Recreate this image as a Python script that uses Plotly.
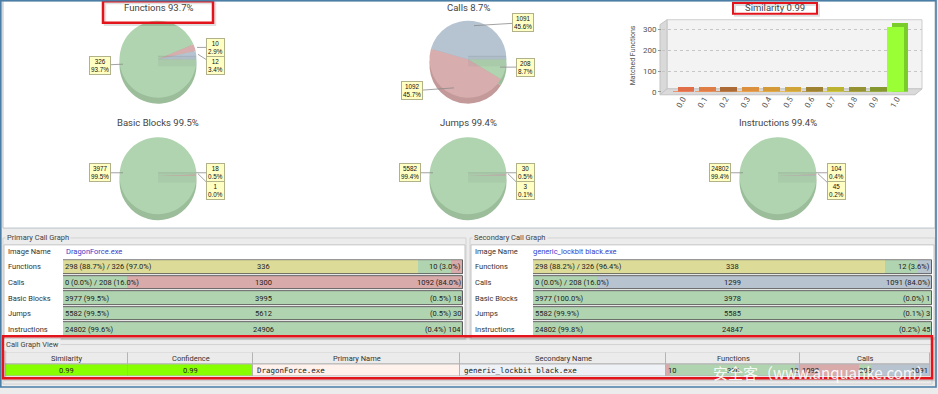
import plotly.graph_objects as go

W, H = 938, 394


def px(x):
    return x / W


def py(y):
    return 1 - y / H


# ---------------- data ----------------
pie_titles = ["Functions 93.7%", "Calls 8.7%", "Basic Blocks 99.5%", "Jumps 99.4%", "Instructions 99.4%"]
pie_matched = [326, 208, 3977, 5582, 24802]
pie_primary_only = [10, 1092, 18, 30, 104]
pie_secondary_only = [12, 1091, 1, 3, 45]

sim_title = "Similarity 0.99"
sim_bins = ["0.0", "0.1", "0.2", "0.3", "0.4", "0.5", "0.6", "0.7", "0.8", "0.9", "1.0"]
sim_counts = [1, 1, 2, 1, 1, 1, 1, 1, 1, 2, 314]
sim_ytitle = "Matched Functions"
sim_ticks = [0, 100, 200, 300]

row_names = ["Functions", "Calls", "Basic Blocks", "Jumps", "Instructions"]
primary_name = "DragonForce.exe"
primary_identical = [298, 0, None, None, None]
primary_matched = [326, 208, 3977, 5582, 24802]
primary_total = [336, 1300, 3995, 5612, 24906]
secondary_name = "generic_lockbit black.exe"
secondary_identical = [298, 0, None, None, None]
secondary_matched = [326, 208, 3977, 5582, 24802]
secondary_total = [338, 1299, 3978, 5585, 24847]

table_headers = ["Similarity", "Confidence", "Primary Name", "Secondary Name", "Functions", "Calls"]
table_similarity = "0.99"
table_confidence = "0.99"
table_functions = [10, 326, 12]      # primary only, matched, secondary only
table_calls = [1092, 208, 1091]
watermark = "安全客（www.anquanke.com）"

# ---------------- style / layout constants ----------------
FONT = "Roboto"
pie_centers = [(158, 60), (468, 60), (158, 178), (468, 178), (778, 178)]
title_pos = [(158, 8), (468, 8), (158, 124), (468, 124), (778, 124)]
PIE_R = 39
PIE_DEPTH = 6
face_colors = ["#b0d4af", "#d7adad", "#b6c4d2"]
side_colors = ["#9bbd9a", "#c39999", "#a1afbe"]
# (box dx, box dy, leader end dx, leader end dy) relative to pie centre, per slice [matched, primary, secondary]
label_pos = [
    [(-58, 6, -35, 5), (57, -12, 39, -12), (57, 6, 40, -5)],
    [(57, 8, 32, 8), (-56, 32, -14, 29), (55, -37, 6, -34)],
    [(-58, -3, -35, -3), (57, -3, 38, -3), (57, 15, 40, -2)],
    [(-58, -3, -35, -3), (57, -3, 38, -3), (57, 15, 40, -2)],
    [(-58, -3, -35, -3), (58, -3, 38, -3), (58, 15, 40, -2)],
]
YELLOW, GREEN, RED, BLUE = "#dcdc98", "#b0d4b0", "#d8aaaa", "#b7c3cf"
sim_colors = ["#f47c52", "#f38b4e", "#c47a3e", "#f2a046", "#eaa93e", "#e5b53e",
              "#b3933a", "#d3c936", "#a9a53a", "#97ab37", "#9bff35"]
sim_back = ["#e06e48", "#de7e46", "#ac6a36", "#dc903e", "#d49a38", "#d0a438",
            "#9e8232", "#bcb430", "#949232", "#84982f", "#7acc2a"]
table_col_widths = [123, 125, 207, 206, 134, 130]
table_cell_fill = ["#88ff00", "#88ff00", "#fff1ec", "#eef2f7", "rgba(0,0,0,0)", "rgba(0,0,0,0)"]

fig = go.Figure()


def shape_rect(x0, y0, x1, y1, fill=None, line=None, lw=1, layer="below"):
    fig.add_shape(type="rect", xref="paper", yref="paper",
                  x0=px(x0), x1=px(x1), y0=py(y0), y1=py(y1),
                  fillcolor=fill or "rgba(0,0,0,0)",
                  line=dict(color=line or "rgba(0,0,0,0)", width=lw if line else 0),
                  layer=layer)


def shape_line(x0, y0, x1, y1, color, lw=1, layer="below"):
    fig.add_shape(type="line", xref="paper", yref="paper",
                  x0=px(x0), x1=px(x1), y0=py(y0), y1=py(y1),
                  line=dict(color=color, width=lw), layer=layer)


def shape_poly(pts, fill, line=None, layer="below"):
    path = "M " + " L ".join(f"{px(a):.5f},{py(b):.5f}" for a, b in pts) + " Z"
    fig.add_shape(type="path", xref="paper", yref="paper", path=path, fillcolor=fill,
                  line=dict(color=line or "rgba(0,0,0,0)", width=1 if line else 0), layer=layer)


def text(x, y, s, size=7.5, color="#333", family=FONT, xanchor="left", **kw):
    fig.add_annotation(x=px(x), y=py(y), xref="paper", yref="paper", text=s, showarrow=False,
                       xanchor=xanchor, yanchor="middle",
                       font=dict(size=size, color=color, family=family), **kw)


# ---------------- background panels ----------------
shape_rect(3, 1, 935, 231, fill="white", line="#b9c3ca")
shape_rect(3, 241, 466, 344, line="#d2d2d2")
shape_rect(4, 248, 465, 343, fill="white", line="#c4c4c4")
shape_rect(470, 241, 935, 344, line="#d2d2d2")
shape_rect(471, 248, 934, 343, fill="white", line="#c4c4c4")
shape_rect(3, 349, 932, 389, line="#d2d2d2")

# similarity chart 3D box
shape_rect(667, 20, 922, 90, fill="#f3f3f3", line="#cdcdcd")
shape_poly([(660, 96), (660, 25), (667, 20), (667, 90)], "#d9d9d9", "#c4c4c4")
shape_poly([(660, 96), (667, 90), (922, 90), (915, 96)], "#dadada", "#c4c4c4")

# ---------------- pies ----------------
for i in range(5):
    cx, cy = pie_centers[i]
    vals = [pie_matched[i], pie_primary_only[i], pie_secondary_only[i]]
    for dy, cols in ((PIE_DEPTH, side_colors), (0, face_colors)):
        fig.add_trace(go.Pie(
            values=vals, sort=False, direction="clockwise", rotation=90,
            marker=dict(colors=cols, line=dict(width=0)),
            textinfo="none", hoverinfo="skip", showlegend=False,
            domain=dict(x=[px(cx - PIE_R), px(cx + PIE_R)],
                        y=[py(cy + dy + PIE_R), py(cy + dy - PIE_R)])))
    # 3D inner edge artefact
    shape_rect(cx, cy - 3, cx + PIE_R - 1, cy + 7, fill="rgba(130,145,140,0.13)", layer="above")
    shape_line(cx, cy - 3, cx + PIE_R - 1, cy - 3, "rgba(110,120,120,0.3)", 0.7, layer="above")
    tot = sum(vals)
    for k in range(3):
        dx, dyy, ex, ey = label_pos[i][k]
        shape_line(cx + dx, cy + dyy, cx + ex, cy + ey, "#8a8a8a", 0.8, layer="above")
        fig.add_annotation(x=px(cx + dx), y=py(cy + dyy), xref="paper", yref="paper",
                           xanchor="center", yanchor="middle",
                           text=f"{vals[k]}<br>{vals[k] / tot * 100:.1f}%", showarrow=False,
                           font=dict(size=6.3, family="Liberation Sans", color="#111"),
                           bgcolor="#ffffc4", bordercolor="#b2b28a", borderwidth=1, borderpad=1)
    tx, ty = title_pos[i]
    text(tx, ty, pie_titles[i], size=9.5, color="#444", xanchor="center")

# ---------------- similarity histogram ----------------
Y_TOP, Y_BOT = 20, 93
Y_MAX = 348
DEPTH_PX = 4.5
dz = DEPTH_PX * Y_MAX / (Y_BOT - Y_TOP)
fig.add_trace(go.Bar(x=sim_bins, y=[v + dz for v in sim_counts], width=0.78, offset=-0.24,
                     marker=dict(color=sim_back, line=dict(width=0)),
                     xaxis="x", yaxis="y", hoverinfo="skip", showlegend=False))
fig.add_trace(go.Bar(x=sim_bins, y=sim_counts, width=0.78, offset=-0.45,
                     marker=dict(color=sim_colors, line=dict(width=0)),
                     xaxis="x", yaxis="y", hoverinfo="skip", showlegend=False))
text(775, 8, sim_title, size=9.5, color="#444", xanchor="center")
fig.add_annotation(x=px(633), y=py(56), xref="paper", yref="paper", text=sim_ytitle,
                   showarrow=False, textangle=-90, xanchor="center", yanchor="middle",
                   font=dict(size=7, color="#555", family=FONT))


# ---------------- call graph panels ----------------
def add_panel(xa, ya, identical, matched, total, other_color):
    ident = [v if v is not None else 0 for v in identical]
    common = dict(y=row_names, orientation="h", width=0.88, xaxis=xa, yaxis=ya,
                  hoverinfo="skip", showlegend=False)
    fig.add_trace(go.Bar(x=[a / t for a, t in zip(ident, total)], base=[0] * 5,
                         marker=dict(color=YELLOW, line=dict(width=0)), **common))
    fig.add_trace(go.Bar(x=[(m - a) / t for a, m, t in zip(ident, matched, total)],
                         base=[a / t for a, t in zip(ident, total)],
                         marker=dict(color=GREEN, line=dict(width=0)), **common))
    fig.add_trace(go.Bar(x=[(t - m) / t for m, t in zip(matched, total)],
                         base=[m / t for m, t in zip(matched, total)],
                         marker=dict(color=other_color, line=dict(width=0)), **common))
    fig.add_trace(go.Bar(x=[1] * 5, base=[0] * 5,
                         marker=dict(color="rgba(0,0,0,0)", line=dict(color="#5e5e5e", width=1)),
                         **common))
    for r, name in enumerate(row_names):
        m, t = matched[r], total[r]
        u = t - m
        if identical[r] is not None:
            a = identical[r]
            left = f"{a} ({a / t * 100:.1f}%) / {m} ({m / t * 100:.1f}%)"
            right = f"{u} ({u / t * 100:.1f}%)"
        else:
            left = f"{m} ({m / t * 100:.1f}%)"
            right = f"({u / t * 100:.1f}%) {u}"
        for xv, s, anc in ((0, left, "left"), (0.5, str(t), "center"), (1, right, "right")):
            fig.add_annotation(x=xv, y=name, xref=xa, yref=ya, text=s, showarrow=False,
                               xanchor=anc, yanchor="middle",
                               font=dict(size=7.5, color="#222", family=FONT))


add_panel("x2", "y2", primary_identical, primary_matched, primary_total, RED)
add_panel("x3", "y3", secondary_identical, secondary_matched, secondary_total, BLUE)

for lx, name, title in ((5, primary_name, "Primary Call Graph"), (472, secondary_name, "Secondary Call Graph")):
    text(lx, 241, title, size=7.5, color="#444", bgcolor="#ececec")
    text(lx + 1, 255, "Image Name", size=7.5, color="#333")
    text(lx + 59, 255, name, size=7.5, color="#3a3ac8")
    for name_r in row_names:
        fig.add_annotation(x=px(lx + 1), y=name_r, xref="paper", yref="y2", text=name_r,
                           showarrow=False, xanchor="left", yanchor="middle",
                           font=dict(size=7.5, color="#333", family=FONT))

# ---------------- call graph view table (cells as bars on axis x4/y4) ----------------
text(4, 349, "Call Graph View", size=7.5, color="#444", bgcolor="#ececec")
col_starts = [sum(table_col_widths[:k]) for k in range(len(table_col_widths))]
TABLE_W = sum(table_col_widths)
tbl = dict(orientation="h", width=1, xaxis="x4", yaxis="y4", hoverinfo="skip", showlegend=False)
fig.add_trace(go.Bar(y=["header"] * 6, x=table_col_widths, base=col_starts,
                     marker=dict(color="#ebebeb", line=dict(color="#b4b4b4", width=1)), **tbl))
for col, vals in ((4, table_functions), (5, table_calls)):
    tot = sum(vals)
    acc = 0
    for k, c in enumerate((RED, GREEN, BLUE)):
        fig.add_trace(go.Bar(y=["row"], x=[vals[k] / tot * table_col_widths[col]],
                             base=[col_starts[col] + acc / tot * table_col_widths[col]],
                             marker=dict(color=c, line=dict(width=0)), **tbl))
        acc += vals[k]
fig.add_trace(go.Bar(y=["row"] * 6, x=table_col_widths, base=col_starts,
                     marker=dict(color=table_cell_fill, line=dict(color="#b4b4b4", width=1)), **tbl))

for k, h in enumerate(table_headers):
    fig.add_annotation(x=col_starts[k] + table_col_widths[k] / 2, y="header", xref="x4", yref="y4",
                       text=h, showarrow=False, xanchor="center", yanchor="middle",
                       font=dict(size=7.5, color="#333", family=FONT))
for k, s in ((0, table_similarity), (1, table_confidence)):
    fig.add_annotation(x=col_starts[k] + table_col_widths[k] / 2, y="row", xref="x4", yref="y4",
                       text=s, showarrow=False, xanchor="center", yanchor="middle",
                       font=dict(size=7.5, color="#222", family=FONT))
for k, s in ((2, primary_name), (3, secondary_name)):
    fig.add_annotation(x=col_starts[k], y="row", xref="x4", yref="y4", xshift=2,
                       text=s, showarrow=False, xanchor="left", yanchor="middle",
                       font=dict(size=7.5, color="#222", family="DejaVu Sans Mono"))
for col, vals in ((4, table_functions), (5, table_calls)):
    for frac, s, anc in ((0, str(vals[0]), "left"), (0.5, str(vals[1]), "center"), (1, str(vals[2]), "right")):
        fig.add_annotation(x=col_starts[col] + frac * table_col_widths[col], y="row", xref="x4",
                           yref="y4", text=s, showarrow=False, xanchor=anc, yanchor="middle",
                           font=dict(size=7.5, color="#222", family=FONT))

# ---------------- highlight boxes, frame, watermark ----------------
shape_rect(105, 3, 215, 25, line="rgba(0,0,0,0.12)", lw=2.5, layer="above")
shape_rect(103, 1.2, 213, 23, line="#e3141b", lw=2.5, layer="above")
shape_rect(735, 5, 819, 16, line="rgba(0,0,0,0.12)", lw=2, layer="above")
shape_rect(733, 3, 817, 14, line="#e3141b", lw=2, layer="above")
shape_rect(5, 342.5, 934, 385, line="rgba(0,0,0,0.12)", lw=2.5, layer="above")
shape_rect(3, 340.5, 932, 383, line="#e3141b", lw=2.5, layer="above")
shape_rect(0.8, 0.8, 936, 392, line="#4a7ea6", lw=1.6, layer="above")

text(822, 377, watermark, size=15, color="rgba(255,255,255,0.9)", family="Noto Sans CJK SC",
     xanchor="center")

# ---------------- layout ----------------
hidden = dict(visible=False, fixedrange=True)
fig.update_layout(
    width=W, height=H, margin=dict(l=0, r=0, t=0, b=0),
    paper_bgcolor="#ececec", plot_bgcolor="rgba(0,0,0,0)",
    barmode="overlay", bargap=0, showlegend=False,
    xaxis=dict(domain=[px(662), px(922)], type="category", categoryorder="array",
               categoryarray=sim_bins, range=[-0.972, 11.178], tickangle=-60,
               tickfont=dict(size=8, color="#555", family=FONT), showgrid=False,
               zeroline=False, showline=False, ticks="", anchor="y", fixedrange=True),
    yaxis=dict(domain=[py(Y_BOT), py(Y_TOP)], range=[0, Y_MAX], tickvals=sim_ticks,
               tickfont=dict(size=8, color="#555", family=FONT), gridcolor="#c6c6c6",
               griddash="dot", gridwidth=1, zeroline=False, showline=False, ticks="outside",
               ticklen=3, tickcolor="#999", anchor="x", fixedrange=True),
    xaxis2=dict(domain=[px(63), px(463)], range=[0, 1], anchor="y2", **hidden),
    yaxis2=dict(domain=[py(341.5), py(262.5)], type="category", categoryorder="array",
                categoryarray=row_names, range=[4.5, -0.5], anchor="x2", **hidden),
    xaxis3=dict(domain=[px(533), px(932)], range=[0, 1], anchor="y3", **hidden),
    yaxis3=dict(domain=[py(341.5), py(262.5)], type="category", categoryorder="array",
                categoryarray=row_names, range=[4.5, -0.5], anchor="x3", **hidden),
    xaxis4=dict(domain=[px(5), px(5 + TABLE_W)], range=[0, TABLE_W], anchor="y4", **hidden),
    yaxis4=dict(domain=[py(381), py(357)], type="category", categoryorder="array",
                categoryarray=["header", "row"], range=[1.5, -0.5], anchor="x4", **hidden),
)

page_css = ("var s=document.createElement('style');"
            "s.innerHTML='html,body{margin:0;padding:0;overflow:hidden;width:938px;height:394px;}"
            "body>div{width:938px;height:394px;overflow:hidden;line-height:0;}';"
            "document.head.appendChild(s);")
fig.write_html("out.html", config={"displayModeBar": False, "responsive": False},
               post_script=page_css)
